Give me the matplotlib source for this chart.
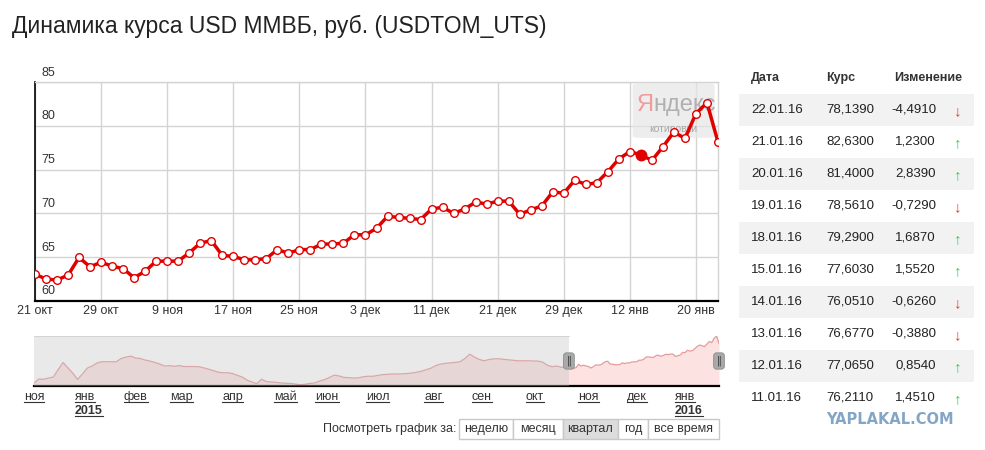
import numpy as np
import matplotlib
matplotlib.use('Agg')
import matplotlib.pyplot as plt
from matplotlib.patches import Rectangle, FancyBboxPatch

plt.rcParams['font.family'] = ['Liberation Sans', 'DejaVu Sans']

# daily USDTOM close, 21 Oct 2015 .. 22 Jan 2016 (trading days)
rate = [63.07, 62.50, 62.40, 62.95, 64.97, 63.90, 64.43, 63.97, 63.70, 62.65,
        63.40, 64.55, 64.55, 64.55, 65.50, 66.60, 66.90, 65.20, 65.10, 64.70,
        64.70, 64.85, 65.87, 65.45, 65.87, 65.87, 66.50, 66.50, 66.60, 67.57,
        67.55, 68.30, 69.66, 69.55, 69.43, 69.30, 70.50, 70.70, 70.00, 70.50,
        71.30, 71.06, 71.40, 71.40, 69.90, 70.40, 70.84, 72.46, 72.30, 73.80,
        73.30, 73.50, 74.760, 76.211, 77.065, 76.677, 76.051, 77.603, 79.290, 78.561,
        81.400, 82.630, 78.139]
tick_labels = ['21 окт', '29 окт', '9 ноя', '17 ноя', '25 ноя', '3 дек',
               '11 дек', '21 дек', '29 дек', '12 янв', '20 янв']
hover_idx = 55

# navigator history before 21 Oct 2015, every 2nd trading day
hist = [53.1, 55.8, 55.6, 56.4, 57.0, 61.7, 66.1, 62.8, 59.5, 55.5,
        58.9, 62.6, 63.9, 65.8, 66.6, 66.6, 66.6, 66.6, 68.6, 69.5,
        70.1, 68.9, 68.6, 67.6, 67.0, 66.1, 65.1, 63.9, 64.2, 63.7,
        64.2, 63.6, 63.6, 63.6, 63.5, 62.8, 62.0, 61.1, 60.1, 59.7,
        59.7, 59.2, 58.1, 57.0, 55.1, 53.9, 52.8, 55.6, 54.2, 53.9,
        53.7, 53.3, 53.1, 53.0, 52.6, 52.1, 52.5, 53.0, 53.3, 54.5,
        55.4, 56.7, 58.2, 57.7, 56.8, 56.6, 56.4, 56.5, 57.2, 57.5,
        57.5, 58.0, 58.5, 58.7, 58.9, 58.9, 59.0, 59.2, 59.5, 60.0,
        60.6, 61.6, 62.6, 64.2, 65.1, 65.6, 65.9, 66.2, 66.6, 68.6,
        71.3, 69.5, 68.0, 67.2, 68.0, 68.4, 68.5, 68.1, 67.8, 67.5,
        67.2, 67.2, 67.2, 67.1, 67.0, 66.5, 64.5, 63.5, 63.9, 63.1,
        63.1]
nav_months = ['ноя', 'янв', 'фев', 'мар', 'апр', 'май', 'июн', 'июл',
              'авг', 'сен', 'окт', 'ноя', 'дек', 'янв']
nav_month_pos = [-221, -200, -179, -160, -139, -117, -100, -79, -56, -36, -14, 8, 28, 48]
nav_years = {1: '2015', 13: '2016'}

table_dates = ['22.01.16', '21.01.16', '20.01.16', '19.01.16', '18.01.16',
               '15.01.16', '14.01.16', '13.01.16', '12.01.16', '11.01.16']
buttons = ['неделю', 'месяц', 'квартал', 'год', 'все время']
selected_button = 'квартал'

RED = '#e00000'
TXT = '#333333'

fig = plt.figure(figsize=(9.85, 4.5), dpi=100)

# overlay in pixel coords for page furniture
ov = fig.add_axes([0, 0, 1, 1])
ov.set_xlim(0, 985)
ov.set_ylim(450, 0)
ov.axis('off')

ov.text(12, 26, 'Динамика курса USD ММВБ, руб. (USDTOM_UTS)', fontsize=16.5,
        color='#222222', va='center', ha='left')

# ---- main chart
ax = fig.add_axes([35 / 985, 1 - 301 / 450, 683 / 985, 219 / 450])
x = np.arange(len(rate))
ax.plot(x, rate, color=RED, lw=2.5, marker='o', ms=5.5, mfc='white', mec=RED,
        mew=1.0, zorder=4, solid_joinstyle='round')
ax.plot(x[hover_idx], rate[hover_idx], 'o', color=RED, ms=7.5, zorder=5)
ax.set_xlim(0, len(rate) - 1)
ax.set_ylim(60, 85)
ax.set_xticks(range(0, 61, 6))
ax.set_xticklabels(tick_labels)
yt = list(range(60, 86, 5))
ax.set_yticks(yt)
ax.set_yticklabels([])
ax.tick_params(length=0, labelsize=9, colors=TXT, pad=3)
ax.grid(color='#d4d4d4', lw=1)
for s in ['top', 'right']:
    ax.spines[s].set_color('#d4d4d4')
    ax.spines[s].set_linewidth(1)
ax.spines['left'].set_color('black')
ax.spines['left'].set_linewidth(1.2)
ax.spines['bottom'].set_color('black')
ax.spines['bottom'].set_linewidth(1.6)
for v in yt:
    ax.annotate(str(v), xy=(0, v), xycoords=ax.get_yaxis_transform(),
                xytext=(6, 9.5), textcoords='offset pixels', ha='left',
                va='center', fontsize=9, color=TXT, annotation_clip=False)

# yandex badge
ax.add_patch(FancyBboxPatch((0.875, 0.745), 0.12, 0.248,
                            boxstyle='round,pad=0,rounding_size=0.01',
                            transform=ax.transAxes, fc='#e6e6e6', ec='none',
                            alpha=0.7, zorder=2))
ax.text(0.906, 0.895, 'Я', transform=ax.transAxes, ha='right', va='center',
        fontsize=17, color='#f29a9a', zorder=3)
ax.text(0.906, 0.895, 'ндекс', transform=ax.transAxes, ha='left', va='center',
        fontsize=17, color='#b0b0b0', zorder=3)
ax.text(0.935, 0.785, 'котировки', transform=ax.transAxes, ha='center',
        va='center', fontsize=7.5, color='#a8a8a8', zorder=3)

# ---- navigator
nav = fig.add_axes([34 / 985, 1 - 386 / 450, 685 / 985, 50 / 450])
hist_x = np.arange(-2 * len(hist) + 1, 0, 2)
nav_x = np.concatenate([hist_x, x])
nav_y = np.concatenate([hist, rate])
lo = nav_y.min() - 0.7
hi = nav_y.max() + 0.1
nav.fill_between(nav_x, nav_y, lo, color='#fde2e2', lw=0)
nav.plot(nav_x, nav_y, color='#e59a9a', lw=0.9)
nav.set_xlim(nav_x[0], nav_x[-1])
nav.set_ylim(lo, hi)
nav.axvspan(nav_x[0], 0, color='#c2c2c2', alpha=0.36, lw=0, zorder=3)
span = nav_x[-1] - nav_x[0]
nav.axhline(hi, xmin=0, xmax=(0 - nav_x[0]) / span, color='#cfcfcf', lw=1.2,
            zorder=4)
nav.set_xticks([])
nav.set_yticks([])
for s in ['top', 'left', 'right']:
    nav.spines[s].set_visible(False)
nav.spines['bottom'].set_color('black')
nav.spines['bottom'].set_linewidth(1.6)
for hx in [0, nav_x[-1]]:
    nav.text(hx, 0.5, '‖', transform=nav.get_xaxis_transform(), ha='center',
             va='center', fontsize=7, color='#333333', zorder=6,
             clip_on=False, family='DejaVu Sans',
             bbox=dict(boxstyle='round,pad=0.3,rounding_size=0.3',
                       fc='#a9a9a9', ec='#8c8c8c', lw=0.6))

month_texts = []
for lab, p in zip(nav_months, nav_month_pos):
    t = nav.annotate(lab, xy=(p, 0), xycoords=nav.get_xaxis_transform(),
                     xytext=(0, -14), textcoords='offset pixels', ha='center',
                     va='baseline', fontsize=9, color=TXT,
                     annotation_clip=False)
    month_texts.append(t)

# buttons row
ov.text(456, 429, 'Посмотреть график за:', ha='right', va='center',
        fontsize=9, color=TXT)
btn_edges = [459, 513, 563, 618, 648, 719]
for i, lab in enumerate(buttons):
    x0, x1 = btn_edges[i], btn_edges[i + 1]
    fc = '#dcdcdc' if lab == selected_button else 'white'
    ov.add_patch(Rectangle((x0, 419), x1 - x0, 20, fc=fc, ec='#c8c8c8', lw=1))
    ov.text((x0 + x1) / 2, 429, lab, ha='center', va='center', fontsize=9,
            color=TXT)

# ---- table
ov.text(751, 78, 'Дата', fontsize=9, fontweight='bold', color=TXT, va='center')
ov.text(826, 78, 'Курс', fontsize=9, fontweight='bold', color=TXT, va='center')
ov.text(962, 78, 'Изменение', fontsize=9, fontweight='bold', color=TXT,
        va='center', ha='right')
n = len(table_dates)
row_rates = rate[::-1][:n]
row_prev = rate[::-1][1:n + 1]
for i, d in enumerate(table_dates):
    yc = 110 + 32 * i
    if i % 2 == 0:
        ov.add_patch(Rectangle((739, yc - 16), 235, 32, fc='#f2f2f2', ec='none'))
    chg = row_rates[i] - row_prev[i]
    ov.text(751, yc, d, fontsize=9.5, color='#222222', va='center')
    ov.text(826, yc, f'{row_rates[i]:.4f}'.replace('.', ','), fontsize=9.5,
            color='#222222', va='center')
    ov.text(936, yc, f'{chg:.4f}'.replace('.', ','), fontsize=9.5,
            color='#222222', va='center', ha='right')
    arrow, col = ('↑', '#33cc44') if chg >= 0 else ('↓', '#e03a3a')
    ov.text(958, yc + 1, arrow, fontsize=11, color=col, va='center', ha='center')

ov.text(890, 420, 'YAPLAKAL.COM', fontsize=10.5, fontweight='bold',
        color='#84a6c6', ha='center', va='center', family='DejaVu Sans')

# underline navigator month labels, then add years
fig.canvas.draw()
r = fig.canvas.get_renderer()
year_texts = []
for i, t in enumerate(month_texts):
    bb = t.get_window_extent(r)
    ov.plot([bb.x0, bb.x1], [402, 402], color=TXT, lw=0.8)
    if i in nav_years:
        year_texts.append(ov.text(bb.x0, 414, nav_years[i], ha='left',
                                  va='baseline', fontsize=9, fontweight='bold',
                                  color=TXT))
fig.canvas.draw()
for t in year_texts:
    bb = t.get_window_extent(r)
    ov.plot([bb.x0, bb.x1], [416, 416], color=TXT, lw=0.8)

fig.savefig('out.png', dpi=100)
